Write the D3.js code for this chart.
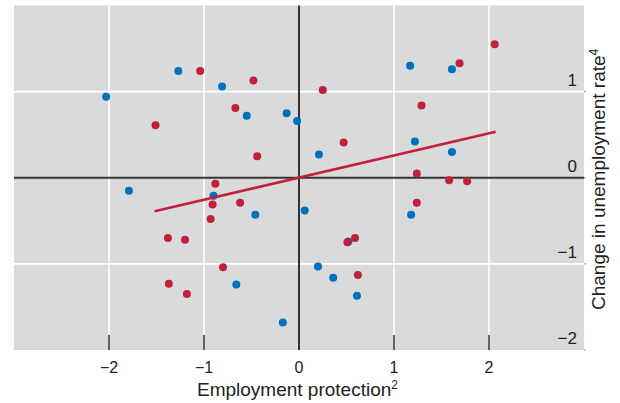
<!DOCTYPE html>
<html>
<head>
<meta charset="utf-8">
<script src="https://cdn.jsdelivr.net/npm/d3@7"></script>
<style>
  body { margin: 0; background: #fff; }
  svg { display: block; font-family: "Liberation Sans", Arial, sans-serif; }
</style>
</head>
<body>
<div id="chart"></div>
<script>
// blue series
var blueX = [-2.03, -1.27, -0.81, -0.55, -0.13, -0.02, -1.79, -0.90, -0.46, -0.66, -0.17,
             0.21, 1.17, 1.61, 1.22, 1.61, 0.06, 1.18, 0.52, 0.20, 0.36, 0.61];
var blueY = [0.94, 1.24, 1.06, 0.72, 0.75, 0.66, -0.15, -0.21, -0.43, -1.24, -1.68,
             0.27, 1.30, 1.26, 0.42, 0.30, -0.38, -0.43, -0.74, -1.03, -1.16, -1.37];
// red series
var redX = [-1.04, -0.48, -0.67, -1.51, -0.44, -0.88, -0.91, -0.62, -0.93, -1.38, -1.20,
            -0.80, -1.37, -1.18, 0.25, 0.47, 1.29, 1.69, 2.06, 1.24, 1.58, 1.77,
            1.24, 0.59, 0.51, 0.62];
var redY = [1.24, 1.13, 0.81, 0.61, 0.25, -0.07, -0.31, -0.29, -0.48, -0.70, -0.72,
            -1.04, -1.23, -1.35, 1.02, 0.41, 0.84, 1.33, 1.55, 0.05, -0.03, -0.04,
            -0.29, -0.70, -0.75, -1.13];
// fitted line
var lineX = [-1.52, 2.07];
var lineY = [-0.39, 0.535];

var xTicks = [-2, -1, 0, 1, 2];
var yTicks = [-2, -1, 0, 1];
var xGrid = [-2, -1, 1, 2];
var yGrid = [-1, 1];

var W = 620, H = 403;
var svg = d3.select("#chart").append("svg")
    .attr("width", W)
    .attr("height", H);

var x = d3.scaleLinear().domain([-3, 3]).range([14, 584]);
var y = d3.scaleLinear().domain([-2, 2]).range([350, 5.5]);

var minus = function (v) { return String(v).replace("-", "\u2212"); };

// plot background
svg.append("rect")
    .attr("x", x(-3))
    .attr("y", y(2))
    .attr("width", x(3) - x(-3))
    .attr("height", y(-2) - y(2))
    .attr("fill", "#d9dadc");

// white grid
svg.selectAll(".gx").data(xGrid).enter().append("line")
    .attr("x1", function (d) { return x(d); })
    .attr("x2", function (d) { return x(d); })
    .attr("y1", y(2))
    .attr("y2", y(-2))
    .attr("stroke", "#fff")
    .attr("stroke-width", 1.6);

svg.selectAll(".gy").data(yGrid).enter().append("line")
    .attr("x1", x(-3))
    .attr("x2", x(3))
    .attr("y1", function (d) { return y(d); })
    .attr("y2", function (d) { return y(d); })
    .attr("stroke", "#fff")
    .attr("stroke-width", 1.6);

// little ticks outside the edges
svg.selectAll(".ty").data([-2, -1, 0, 1]).enter().append("line")
    .attr("x1", x(3))
    .attr("x2", x(3) + 2)
    .attr("y1", function (d) { return y(d); })
    .attr("y2", function (d) { return y(d); })
    .attr("stroke", "#999")
    .attr("stroke-width", 1);

// x ticks inside at bottom
svg.selectAll(".tx").data(xGrid).enter().append("line")
    .attr("x1", function (d) { return x(d); })
    .attr("x2", function (d) { return x(d); })
    .attr("y1", y(-2) - 15)
    .attr("y2", y(-2))
    .attr("stroke", "#333")
    .attr("stroke-width", 1.5);

// zero axes
svg.append("line")
    .attr("x1", x(-3)).attr("x2", x(3))
    .attr("y1", y(0)).attr("y2", y(0))
    .attr("stroke", "#333").attr("stroke-width", 2);
svg.append("line")
    .attr("x1", x(0)).attr("x2", x(0))
    .attr("y1", y(2)).attr("y2", y(-2))
    .attr("stroke", "#333").attr("stroke-width", 2);

// points
var blue = d3.range(blueX.length).map(function (i) { return [blueX[i], blueY[i]]; });
var red = d3.range(redX.length).map(function (i) { return [redX[i], redY[i]]; });

svg.selectAll(".blue").data(blue).enter().append("circle")
    .attr("cx", function (d) { return x(d[0]); })
    .attr("cy", function (d) { return y(d[1]); })
    .attr("r", 4)
    .attr("fill", "#0071bc");

svg.selectAll(".red").data(red).enter().append("circle")
    .attr("cx", function (d) { return x(d[0]); })
    .attr("cy", function (d) { return y(d[1]); })
    .attr("r", 4)
    .attr("fill", "#c1203b");

// regression line
svg.append("path")
    .datum(d3.range(lineX.length).map(function (i) { return [lineX[i], lineY[i]]; }))
    .attr("d", d3.line().x(function (d) { return x(d[0]); }).y(function (d) { return y(d[1]); }))
    .attr("fill", "none")
    .attr("stroke", "#c1203b")
    .attr("stroke-width", 2.5);

// tick labels
svg.selectAll(".lx").data(xTicks).enter().append("text")
    .attr("x", function (d) { return x(d); })
    .attr("y", 373)
    .attr("text-anchor", "middle")
    .attr("font-size", 16)
    .attr("fill", "#222")
    .text(minus);

svg.selectAll(".ly").data(yTicks).enter().append("text")
    .attr("x", 577)
    .attr("y", function (d) { return y(d) - 6; })
    .attr("text-anchor", "end")
    .attr("font-size", 17)
    .attr("fill", "#222")
    .text(minus);

// axis titles
var xt = svg.append("text")
    .attr("x", 197)
    .attr("y", 396)
    .attr("font-size", 19)
    .attr("fill", "#222");
xt.append("tspan").text("Employment protection");
xt.append("tspan").attr("font-size", 12).attr("dy", -7).text("2");

var yt = svg.append("text")
    .attr("transform", "translate(605,310) rotate(-90)")
    .attr("font-size", 19)
    .attr("fill", "#222");
yt.append("tspan").text("Change in unemployment rate");
yt.append("tspan").attr("font-size", 12).attr("dy", -7).text("4");
</script>
</body>
</html>
